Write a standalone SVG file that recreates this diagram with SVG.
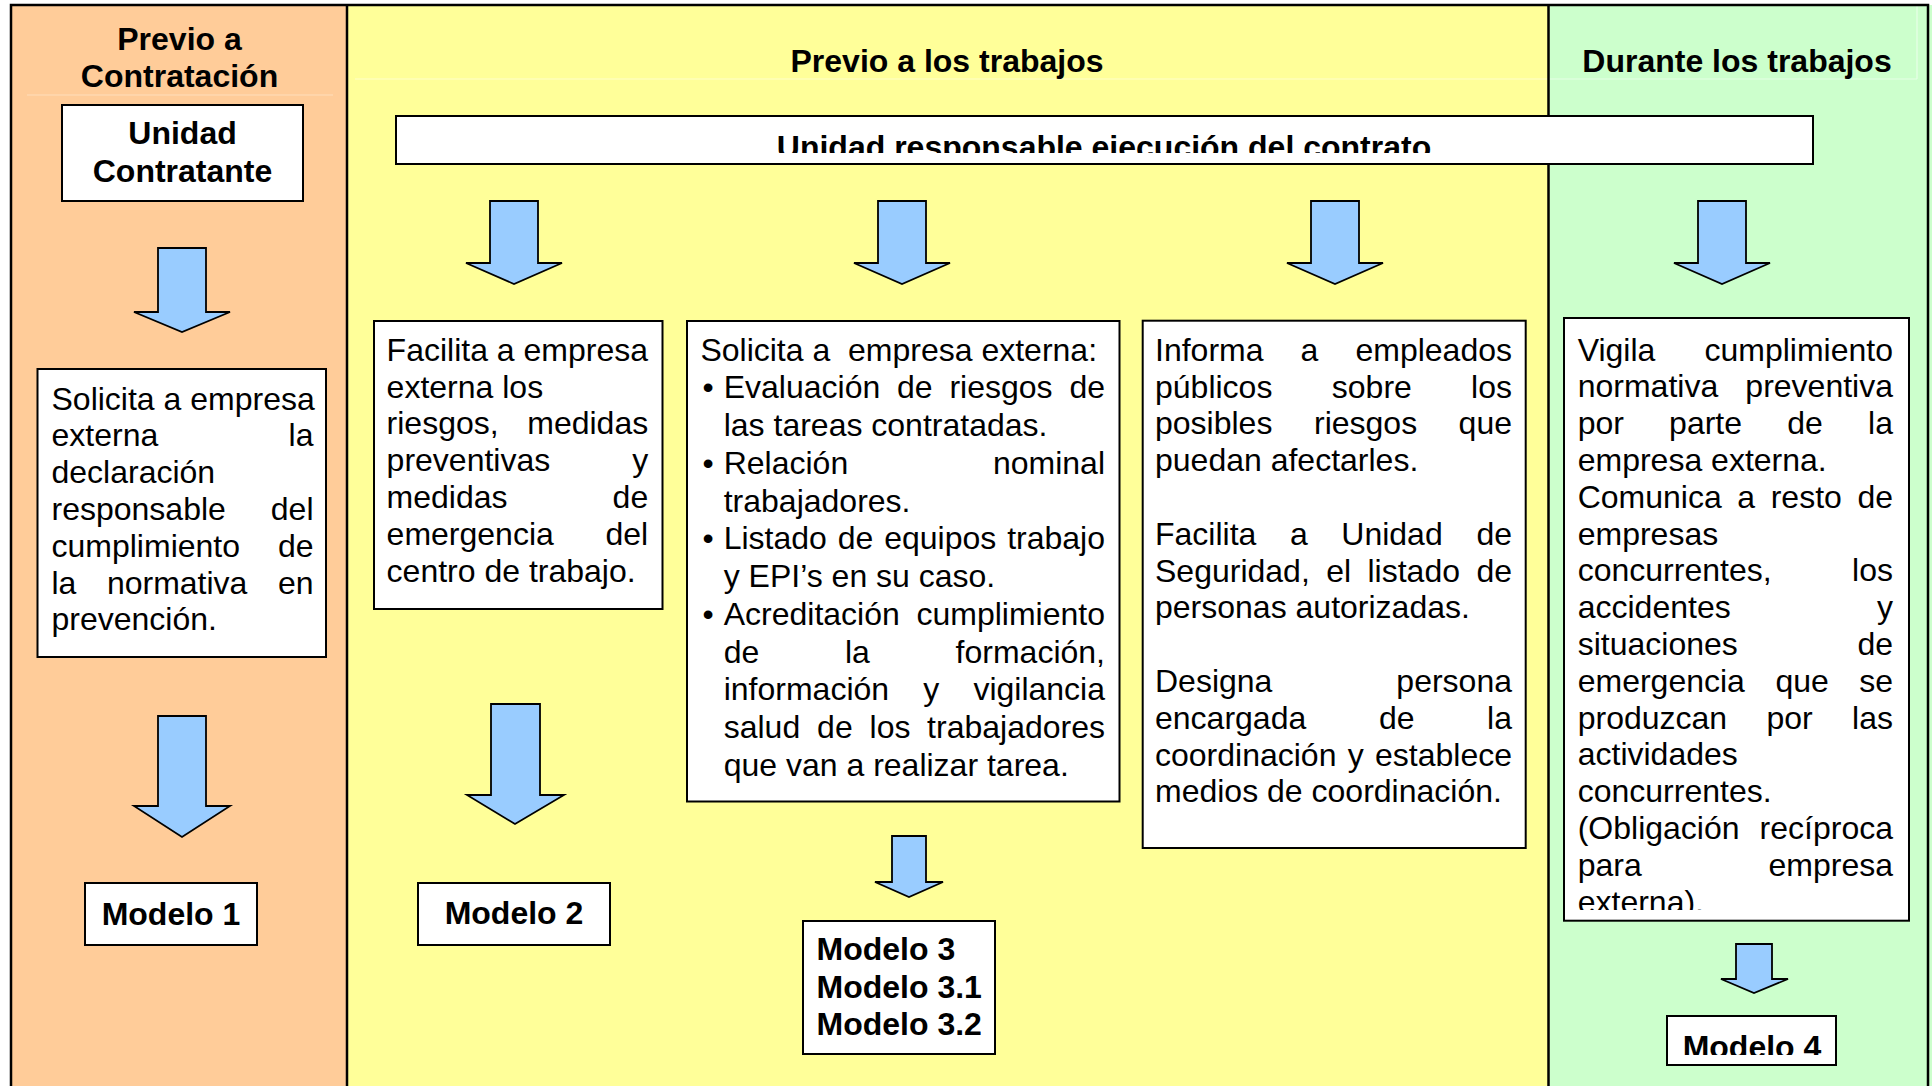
<svg xmlns="http://www.w3.org/2000/svg" width="1932" height="1086" viewBox="0 0 1932 1086">
<style>
.t{font-family:"Liberation Sans",Arial,sans-serif;font-size:32px;fill:#000}
.b{font-weight:bold}
.e{text-anchor:end}
.m{text-anchor:middle}
.box{fill:#fff;stroke:#000;stroke-width:2}
.arrow{fill:#99CCFF;stroke:#000;stroke-width:1.8;stroke-linejoin:miter}
.faint{fill:none;stroke-width:1.2}
</style>
<defs>
<clipPath id="clipBar"><rect x="397" y="117" width="1415" height="36"/></clipPath>
<clipPath id="clipVig"><rect x="1565" y="318" width="343" height="592"/></clipPath>
<clipPath id="clipM4"><rect x="1668" y="1017" width="167" height="38"/></clipPath>
</defs>

<g id="background">
<rect x="11" y="5" width="336" height="1100" fill="#FFCC99"/>
<rect x="347" y="5" width="1201.5" height="1100" fill="#FFFF99"/>
<rect x="1548.5" y="5" width="1379.5" height="1100" fill="#CCFFCC"/>
<path class="faint" stroke="#FFDDBB" d="M27,95 H333"/>
<path class="faint" stroke="#FFFFCC" d="M355,79 H1548"/>
<path class="faint" stroke="#E6FFE6" d="M1549,79 H1917 M1917,6 V79"/>
<rect x="11" y="5" width="1917" height="1100" fill="none" stroke="#000" stroke-width="2.5"/>
<path d="M347,5 V1090 M1548.5,5 V1090" stroke="#000" stroke-width="2.5" fill="none"/>
</g>

<g id="headers">
<text class="t b m" x="179.5" y="50">Previo a</text>
<text class="t b m" x="179.5" y="87">Contratación</text>
<text class="t b m" x="947" y="71.7">Previo a los trabajos</text>
<text class="t b m" x="1737" y="71.7">Durante los trabajos</text>
</g>

<g id="node-unidad-contratante">
<rect class="box" x="62" y="105" width="241" height="96"/>
<text class="t b m" x="182.5" y="144">Unidad</text>
<text class="t b m" x="182.5" y="182">Contratante</text>
</g>

<g id="node-unidad-responsable">
<rect class="box" x="396" y="116" width="1417" height="48"/>
<text class="t b m" x="1104" y="158" clip-path="url(#clipBar)">Unidad responsable ejecución del contrato</text>
</g>

<g id="node-solicita-declaracion">
<rect class="box" x="37.5" y="369" width="288.5" height="288"/>
<text class="t" x="51.5" y="409.5">Solicita a empresa</text>
<text class="t" x="51.5" y="446.3">externa</text><text class="t e" x="313.5" y="446.3">la</text>
<text class="t" x="51.5" y="483.1">declaración</text>
<text class="t" x="51.5" y="519.9">responsable</text><text class="t e" x="313.5" y="519.9">del</text>
<text class="t" x="51.5" y="556.7">cumplimiento</text><text class="t e" x="313.5" y="556.7">de</text>
<text class="t" x="51.5" y="593.5">la</text><text class="t" x="106.9" y="593.5">normativa</text><text class="t e" x="313.5" y="593.5">en</text>
<text class="t" x="51.5" y="630.3">prevención.</text>
</g>

<g id="node-facilita-riesgos">
<rect class="box" x="374" y="321" width="288.5" height="288"/>
<text class="t" x="386.6" y="360.7">Facilita a empresa</text>
<text class="t" x="386.6" y="397.5">externa los</text>
<text class="t" x="386.6" y="434.3">riesgos,</text><text class="t e" x="648.2" y="434.3">medidas</text>
<text class="t" x="386.6" y="471.1">preventivas</text><text class="t e" x="648.2" y="471.1">y</text>
<text class="t" x="386.6" y="507.9">medidas</text><text class="t e" x="648.2" y="507.9">de</text>
<text class="t" x="386.6" y="544.7">emergencia</text><text class="t e" x="648.2" y="544.7">del</text>
<text class="t" x="386.6" y="581.5">centro de trabajo.</text>
</g>

<g id="node-solicita-documentacion">
<rect class="box" x="687" y="321" width="432.5" height="480.5"/>
<text class="t" x="700.4" y="360.7" xml:space="preserve">Solicita a  empresa externa:</text>
<text class="t" x="702.4" y="398.45">•</text>
<text class="t" x="723.7" y="398.45">Evaluación</text><text class="t" x="897" y="398.45">de</text><text class="t" x="949.4" y="398.45">riesgos</text><text class="t e" x="1105" y="398.45">de</text>
<text class="t" x="723.7" y="436.2">las tareas contratadas.</text>
<text class="t" x="702.4" y="473.95">•</text>
<text class="t" x="723.7" y="473.95">Relación</text><text class="t e" x="1105" y="473.95">nominal</text>
<text class="t" x="723.7" y="511.7">trabajadores.</text>
<text class="t" x="702.4" y="549.45">•</text>
<text class="t" x="723.7" y="549.45">Listado</text><text class="t" x="837.8" y="549.45">de</text><text class="t" x="884.2" y="549.45">equipos</text><text class="t e" x="1105" y="549.45">trabajo</text>
<text class="t" x="723.7" y="587.2">y EPI’s en su caso.</text>
<text class="t" x="702.4" y="624.95">•</text>
<text class="t" x="723.7" y="624.95">Acreditación</text><text class="t e" x="1105" y="624.95">cumplimiento</text>
<text class="t" x="723.7" y="662.7">de</text><text class="t" x="845" y="662.7">la</text><text class="t e" x="1105" y="662.7">formación,</text>
<text class="t" x="723.7" y="700.45">información</text><text class="t" x="923.3" y="700.45">y</text><text class="t e" x="1105" y="700.45">vigilancia</text>
<text class="t" x="723.7" y="738.2">salud</text><text class="t" x="817.1" y="738.2">de</text><text class="t" x="869.6" y="738.2">los</text><text class="t e" x="1105" y="738.2">trabajadores</text>
<text class="t" x="723.7" y="775.95">que van a realizar tarea.</text>
</g>

<g id="node-informa-empleados">
<rect class="box" x="1142.7" y="320.7" width="383" height="527.3"/>
<text class="t" x="1155" y="360.7">Informa</text><text class="t" x="1300.6" y="360.7">a</text><text class="t e" x="1512" y="360.7">empleados</text>
<text class="t" x="1155" y="397.5">públicos</text><text class="t" x="1331.8" y="397.5">sobre</text><text class="t e" x="1512" y="397.5">los</text>
<text class="t" x="1155" y="434.3">posibles</text><text class="t" x="1314" y="434.3">riesgos</text><text class="t e" x="1512" y="434.3">que</text>
<text class="t" x="1155" y="471.1">puedan afectarles.</text>
<text class="t" x="1155" y="544.7">Facilita</text><text class="t" x="1289.9" y="544.7">a</text><text class="t" x="1341.3" y="544.7">Unidad</text><text class="t e" x="1512" y="544.7">de</text>
<text class="t" x="1155" y="581.5">Seguridad,</text><text class="t" x="1326.2" y="581.5">el</text><text class="t" x="1367.5" y="581.5">listado</text><text class="t e" x="1512" y="581.5">de</text>
<text class="t" x="1155" y="618.3">personas autorizadas.</text>
<text class="t" x="1155" y="691.9">Designa</text><text class="t e" x="1512" y="691.9">persona</text>
<text class="t" x="1155" y="728.7">encargada</text><text class="t" x="1378.9" y="728.7">de</text><text class="t e" x="1512" y="728.7">la</text>
<text class="t" x="1155" y="765.5">coordinación</text><text class="t" x="1347.7" y="765.5">y</text><text class="t e" x="1512" y="765.5">establece</text>
<text class="t" x="1155" y="802.3">medios de coordinación.</text>
</g>

<g id="node-vigila">
<rect class="box" x="1564" y="318" width="345" height="602.7"/>
<g clip-path="url(#clipVig)">
<text class="t" x="1577.7" y="360.5">Vigila</text><text class="t e" x="1893" y="360.5">cumplimiento</text>
<text class="t" x="1577.7" y="397.3">normativa</text><text class="t e" x="1893" y="397.3">preventiva</text>
<text class="t" x="1577.7" y="434.1">por</text><text class="t" x="1669.1" y="434.1">parte</text><text class="t" x="1787.2" y="434.1">de</text><text class="t e" x="1893" y="434.1">la</text>
<text class="t" x="1577.7" y="470.9">empresa externa.</text>
<text class="t" x="1577.7" y="507.7">Comunica</text><text class="t" x="1737.3" y="507.7">a</text><text class="t" x="1770.7" y="507.7">resto</text><text class="t e" x="1893" y="507.7">de</text>
<text class="t" x="1577.7" y="544.5">empresas</text>
<text class="t" x="1577.7" y="581.3">concurrentes,</text><text class="t e" x="1893" y="581.3">los</text>
<text class="t" x="1577.7" y="618.1">accidentes</text><text class="t e" x="1893" y="618.1">y</text>
<text class="t" x="1577.7" y="654.9">situaciones</text><text class="t e" x="1893" y="654.9">de</text>
<text class="t" x="1577.7" y="691.7">emergencia</text><text class="t" x="1775.4" y="691.7">que</text><text class="t e" x="1893" y="691.7">se</text>
<text class="t" x="1577.7" y="728.5">produzcan</text><text class="t" x="1766.5" y="728.5">por</text><text class="t e" x="1893" y="728.5">las</text>
<text class="t" x="1577.7" y="765.3">actividades</text>
<text class="t" x="1577.7" y="802.1">concurrentes.</text>
<text class="t" x="1577.7" y="838.9">(Obligación</text><text class="t e" x="1893" y="838.9">recíproca</text>
<text class="t" x="1577.7" y="875.7">para</text><text class="t e" x="1893" y="875.7">empresa</text>
<text class="t" x="1577.7" y="912.5">externa).</text>
</g>
</g>

<g id="node-modelo-1">
<rect class="box" x="85" y="883" width="172" height="62"/>
<text class="t b m" x="171" y="925">Modelo 1</text>
</g>

<g id="node-modelo-2">
<rect class="box" x="418" y="883" width="192" height="62"/>
<text class="t b m" x="514" y="924">Modelo 2</text>
</g>

<g id="node-modelo-3">
<rect class="box" x="803" y="921" width="192" height="133"/>
<text class="t b" x="816.5" y="960">Modelo 3</text>
<text class="t b" x="816.5" y="997.5">Modelo 3.1</text>
<text class="t b" x="816.5" y="1035">Modelo 3.2</text>
</g>

<g id="node-modelo-4">
<rect class="box" x="1667" y="1016" width="169" height="49"/>
<text class="t b m" x="1752" y="1058" clip-path="url(#clipM4)">Modelo 4</text>
</g>

<g id="connectors">
<path class="arrow" d="M158,248 H206 V312 H230 L182,332 L134,312 H158 Z"/>
<path class="arrow" d="M158,716 H206 V806 H230 L182,837 L134,806 H158 Z"/>
<path class="arrow" d="M490,201 H538 V263 H562 L514,284 L466,263 H490 Z"/>
<path class="arrow" d="M878,201 H926 V263 H950 L902,284 L854,263 H878 Z"/>
<path class="arrow" d="M1311,201 H1359 V263 H1383 L1335,284 L1287,263 H1311 Z"/>
<path class="arrow" d="M1698,201 H1746 V263 H1770 L1722,284 L1674,263 H1698 Z"/>
<path class="arrow" d="M491,704 H540 V795 H564 L515,824 L467,795 H491 Z"/>
<path class="arrow" d="M892,836 H926 V882 H943 L909,897 L875,882 H892 Z"/>
<path class="arrow" d="M1736,944 H1772 V979 H1788 L1754,993 L1721,979 H1736 Z"/>
</g>
</svg>
